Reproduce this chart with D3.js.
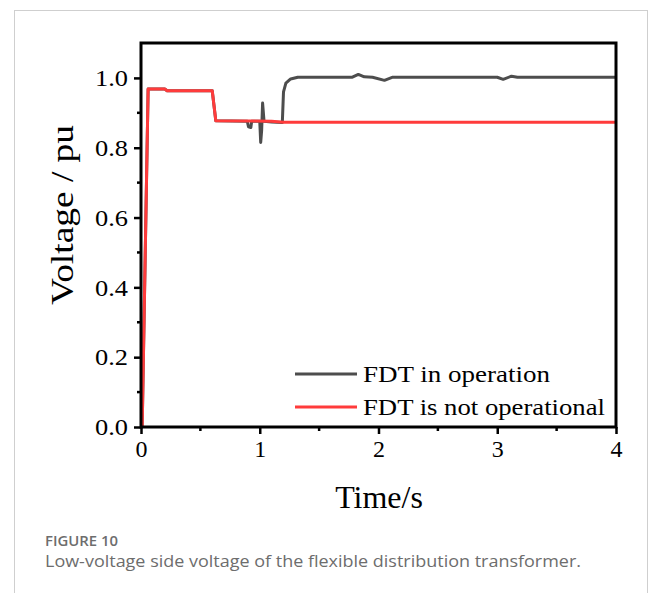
<!DOCTYPE html>
<html><head><meta charset="utf-8">
<script src="https://cdn.jsdelivr.net/npm/d3@7/dist/d3.min.js"></script>
<style>body{margin:0;background:#fff}svg{display:block}</style>
</head><body>
<script>
// ---- data ----
const xTicks = [0, 1, 2, 3, 4];
const yTicks = [0.0, 0.2, 0.4, 0.6, 0.8, 1.0];
const seriesNames = ["FDT in operation", "FDT is not operational"];
// FDT in operation (gray)
const opTime = [0, 0.01, 0.06, 0.2, 0.22, 0.6, 0.63, 0.895, 0.905, 0.925, 0.932, 1.0, 1.008, 1.016, 1.024, 1.036, 1.1, 1.19, 1.2, 1.22, 1.26, 1.32, 1.78, 1.83, 1.88, 1.95, 2.05, 2.12, 3.0, 3.05, 3.12, 3.17, 4.0];
const opVolt = [0, 0.0, 0.968, 0.968, 0.963, 0.963, 0.877, 0.876, 0.86, 0.858, 0.876, 0.876, 0.815, 0.85, 0.928, 0.876, 0.874, 0.872, 0.96, 0.985, 0.997, 1.002, 1.002, 1.01, 1.003, 1.002, 0.993, 1.002, 1.002, 0.996, 1.005, 1.002, 1.002];
// FDT is not operational (red)
const noTime = [0, 0.01, 0.06, 0.2, 0.22, 0.6, 0.63, 1.1, 1.2, 4.0];
const noVolt = [0, 0.0, 0.968, 0.968, 0.963, 0.963, 0.877, 0.876, 0.873, 0.873];
const colors = ["#4d4d4d", "#ff3b3b"];

const W = 656, H = 593;
const svg = d3.select("body").append("svg").attr("width", W).attr("height", H);

// card border
svg.append("rect").attr("x", 14.5).attr("y", 10.5).attr("width", 633).attr("height", 620)
  .attr("fill", "none").attr("stroke", "#cfcfcf").attr("stroke-width", 1);

const x = d3.scaleLinear().domain([0, 4]).range([141, 616]);
const y = d3.scaleLinear().domain([0, 1.1]).range([427, 43]);
const serif = "'Liberation Serif','Times New Roman',serif";

// lines
const line = d3.line().x(d => x(d[0])).y(d => y(d[1]));
const opData = opTime.map((t, i) => [t, opVolt[i]]);
const noData = noTime.map((t, i) => [t, noVolt[i]]);
svg.append("path").datum(opData).attr("d", line).attr("fill", "none")
  .attr("stroke", colors[0]).attr("stroke-width", 3).attr("stroke-linejoin", "round");
svg.append("path").datum(noData).attr("d", line).attr("fill", "none")
  .attr("stroke", colors[1]).attr("stroke-width", 3).attr("stroke-linejoin", "round");

// frame
svg.append("rect").attr("x", x(0)).attr("y", y(1.1)).attr("width", x(4) - x(0)).attr("height", y(0) - y(1.1))
  .attr("fill", "none").attr("stroke", "#000").attr("stroke-width", 3);

// minor ticks
const yMinor = d3.range(0.1, 1.1, 0.2);
svg.append("g").selectAll("line").data(yMinor).join("line")
  .attr("x1", x(0) - 4).attr("x2", x(0)).attr("y1", d => y(d)).attr("y2", d => y(d))
  .attr("stroke", "#000").attr("stroke-width", 2.5);
const xMinor = [0.5, 1.5, 2.5, 3.5];
svg.append("g").selectAll("line").data(xMinor).join("line")
  .attr("y1", y(0)).attr("y2", y(0) + 4).attr("x1", d => x(d)).attr("x2", d => x(d))
  .attr("stroke", "#000").attr("stroke-width", 2.5);

// axes
const yAxis = svg.append("g").attr("transform", `translate(${x(0)},0)`)
  .call(d3.axisLeft(y).tickValues(yTicks).tickFormat(d3.format(".1f")).tickSize(7).tickPadding(6));
const xAxis = svg.append("g").attr("transform", `translate(0,${y(0)})`)
  .call(d3.axisBottom(x).tickValues(xTicks).tickFormat(d3.format("d")).tickSize(7).tickPadding(6));
[yAxis, xAxis].forEach(g => {
  g.select(".domain").remove();
  g.selectAll(".tick line").attr("stroke", "#000").attr("stroke-width", 2.5);
  g.selectAll(".tick text").attr("fill", "#000").style("font-family", serif).style("font-size", "24px");
});
yAxis.selectAll(".tick text").attr("textLength", 33).attr("lengthAdjust", "spacingAndGlyphs");

// axis titles
svg.append("text").attr("x", 379).attr("y", 508).attr("text-anchor", "middle")
  .style("font-family", serif).style("font-size", "32px").text("Time/s");
svg.append("text").attr("transform", "translate(73,215) rotate(-90)").attr("text-anchor", "middle")
  .attr("textLength", 180).attr("lengthAdjust", "spacingAndGlyphs")
  .style("font-family", serif).style("font-size", "32px").text("Voltage / pu");

// legend
const legendLen = [187, 242];
const lg = svg.append("g");
seriesNames.forEach((n, i) => {
  const ly = 374 + i * 33;
  lg.append("line").attr("x1", 295).attr("x2", 357).attr("y1", ly).attr("y2", ly)
    .attr("stroke", colors[i]).attr("stroke-width", 3);
  lg.append("text").attr("x", 363).attr("y", ly + 8).style("font-family", serif).style("font-size", "24px")
    .attr("textLength", legendLen[i]).attr("lengthAdjust", "spacingAndGlyphs").text(n);
});

// caption
svg.append("text").attr("x", 45).attr("y", 546).style("font-family", "'Open Sans',sans-serif")
  .style("font-size", "13.5px").style("font-weight", "600").attr("fill", "#6d6d6d")
  .attr("textLength", 73).attr("lengthAdjust", "spacingAndGlyphs").text("FIGURE 10");
svg.append("text").attr("x", 45).attr("y", 567).style("font-family", "'Open Sans',sans-serif")
  .attr("textLength", 536).attr("lengthAdjust", "spacingAndGlyphs")
  .style("font-size", "16.5px").attr("fill", "#6d6d6d").text("Low-voltage side voltage of the flexible distribution transformer.");
</script>
</body></html>
